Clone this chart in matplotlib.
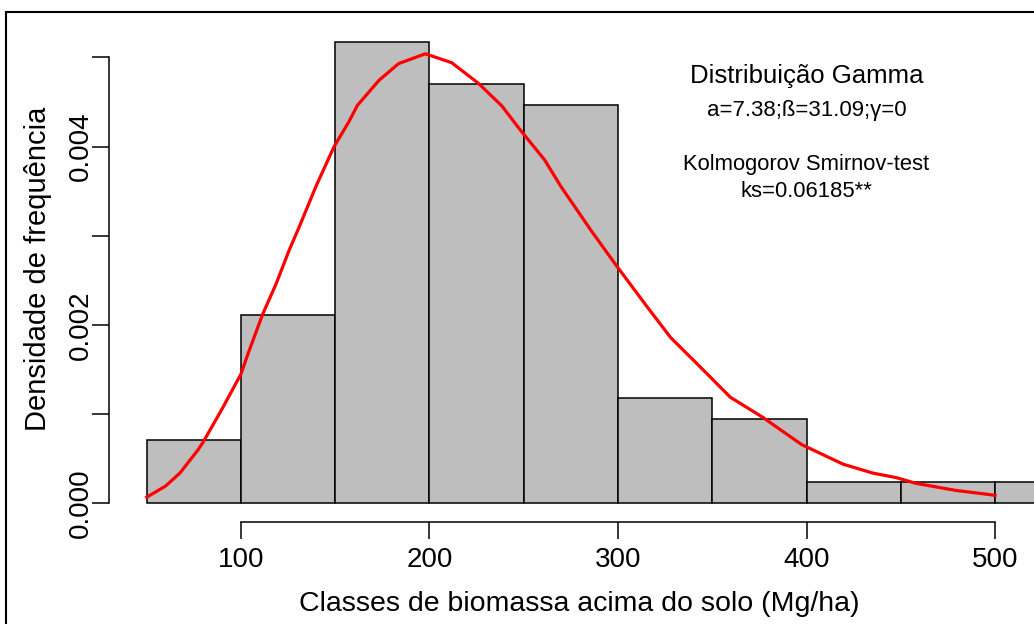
import numpy as np
import matplotlib
matplotlib.use("Agg")
import matplotlib.pyplot as plt
from matplotlib.patches import Rectangle

plt.rcParams['font.family'] = ['Liberation Sans', 'DejaVu Sans']

# histogram classes (Mg/ha) and counts per class
breaks = [50, 100, 150, 200, 250, 300, 350, 400, 450, 500, 550]
counts = [3, 9, 22, 20, 19, 5, 4, 1, 1, 1]

# fitted gamma curve
curve_x = [50, 60, 67.6, 77.2, 80, 90, 100, 103.6, 111.5, 118.6, 125.6, 130.9, 139.9,
           149.4, 157.3, 161.7, 173.1, 183.6, 197.8, 211.8, 225.9, 238.2, 248.4,
           261.1, 269.8, 285.7, 298.3, 315.6, 327.9, 345.5, 359.6, 377.2, 385.9,
           397.4, 419.4, 435.2, 447.5, 458.1, 479.2, 496.8, 500]
curve_y = [0.00007, 0.000195, 0.00034, 0.00060, 0.00069, 0.00106, 0.00145, 0.00167,
           0.00212, 0.00246, 0.00284, 0.00310, 0.00356, 0.00400, 0.00428, 0.00446,
           0.00474, 0.00493, 0.00504, 0.00494, 0.00471, 0.00446, 0.00418, 0.00385,
           0.00355, 0.00306, 0.00269, 0.00220, 0.00186, 0.00149, 0.00119, 0.00096,
           0.00083, 0.00066, 0.00044, 0.00034, 0.00029, 0.000225, 0.000146,
           0.00010, 0.00009]

n = sum(counts)
width = breaks[1] - breaks[0]
dens = [c / (n * width) for c in counts]

W, H = 1034, 624
L, R, T, B = 109, 1127, 21.5, 522
fig = plt.figure(figsize=(W / 100, H / 100), dpi=100)
# plot region spills past the right edge, like the cropped original
ax = fig.add_axes([L / W, 1 - B / H, (R - L) / W, (B - T) / H])

ax.bar(breaks[:-1], dens, width=width, align='edge', color='#bebebe',
       edgecolor='black', linewidth=1.1)
ax.plot(curve_x, curve_y, color='red', lw=2.3)

ax.set_xlim(30, 570)
ax.set_ylim(-0.000208, 0.005402)

for s in ['top', 'right']:
    ax.spines[s].set_visible(False)
ax.spines['left'].set_bounds(0, 0.005)
ax.spines['bottom'].set_bounds(100, 500)
ax.spines['left'].set_linewidth(1.1)
ax.spines['bottom'].set_linewidth(1.1)

ax.set_xticks([100, 200, 300, 400, 500])
ax.set_yticks([0, 0.001, 0.002, 0.003, 0.004, 0.005])
ax.set_yticklabels(['0.000', '', '0.002', '', '0.004', ''], rotation=90, va='center')
ax.tick_params(axis='both', length=12.2, width=1.1, labelsize=20, direction='out')
ax.tick_params(axis='x', pad=6)
ax.tick_params(axis='y', pad=-1.5)

ax.set_xlabel('Classes de biomassa acima do solo (Mg/ha)', fontsize=20.5, va='center')
ax.xaxis.set_label_coords((579 - L) / (R - L), -(604 - B) / (B - T))
ax.set_ylabel('Densidade de frequência', fontsize=21, va='center')
ax.yaxis.set_label_coords(-(L - 38) / (R - L), (B - 269) / (B - T))

ax.text(400, 0.00479, 'Distribuição Gamma', ha='center', va='center', fontsize=18.5)
ax.text(400, 0.00440, 'a=7.38;ß=31.09;γ=0', ha='center', va='center', fontsize=16)
ax.text(400, 0.00380, 'Kolmogorov Smirnov-test', ha='center', va='center', fontsize=15.8)
ax.text(400, 0.00350, 'ks=0.06185**', ha='center', va='center', fontsize=15.8)

# outer frame around the figure
fig.patches.append(Rectangle((6 / W, -0.1), 1.2, 1 - 12 / H + 0.1,
                             transform=fig.transFigure, fill=False,
                             edgecolor='black', linewidth=1.5))

fig.savefig('out.png', dpi=100)
